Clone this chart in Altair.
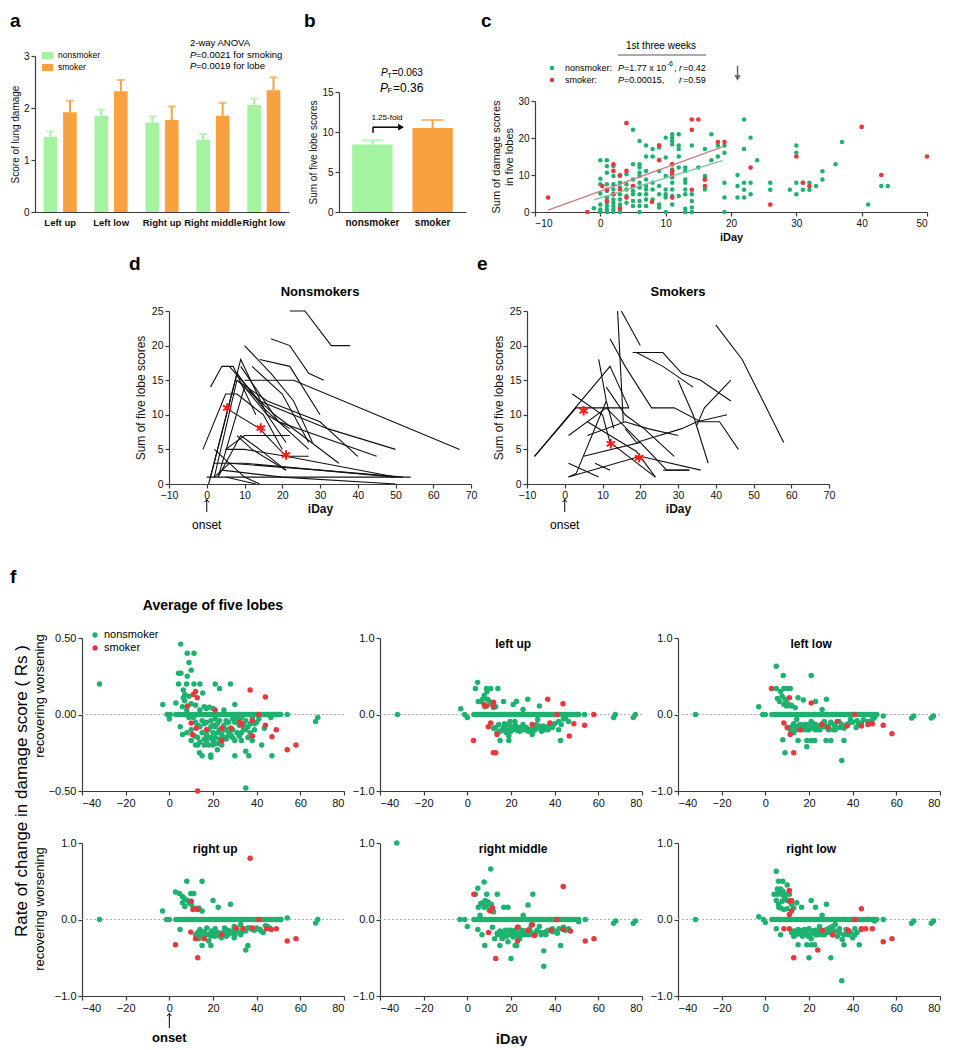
import altair as alt
import pandas as pd

FONT = "Liberation Sans"
BAR_GREEN = "#a3f3a0"
BAR_ORANGE = "#f9a13e"
DOT_GREEN = "#1db26f"
DOT_RED = "#e8383d"
AXIS_COLOR = "#3c3c3c"
STAR = "M0,-1L0,1M-0.87,-0.5L0.87,0.5M-0.87,0.5L0.87,-0.5"
CHEVRON = "M-1,0.7L0,-0.3L1,0.7"

# ---------------- panel a ----------------
LOBES = ["Left up", "Left low", "Right up", "Right middle", "Right low"]
A_NONSMOKER = [1.44, 1.85, 1.72, 1.39, 2.06]
A_NONSMOKER_ERR = [1.55, 1.97, 1.84, 1.50, 2.18]
A_SMOKER = [1.92, 2.32, 1.77, 1.85, 2.34]
A_SMOKER_ERR = [2.14, 2.54, 2.03, 2.10, 2.59]
A_TICKS = [0, 1, 2, 3]

# ---------------- panel b ----------------
GROUPS = ["nonsmoker", "smoker"]
B_VALUES = [8.45, 10.5]
B_ERR = [8.95, 11.5]
B_TICKS = [0, 5, 10, 15]

# ---------------- panel c ----------------
C_NONSMOKER = [
    (-1, 1), (0, 14), (0, 9), (0, 7.5), (0, 5), (0, 2), (0, 0.7), (0, 0),
    (1, 14), (1, 12.4), (1, 10.6), (1, 7.5), (1, 5.7), (1, 3.9), (1, 2.5), (1, 1.6), (1, 0.7), (1, 0),
    (2, 12.4), (2, 9.7), (2, 7.5), (2, 6.1), (2, 4.8), (2, 3.4), (2, 2.5), (2, 1.6), (2, 0.7), (2, 0),
    (3, 9.7), (3, 7.9), (3, 6.6), (3, 4.8), (3, 3.4), (3, 2), (3, 1.2), (3, 0),
    (4, 10.2), (4, 7.5), (4, 6.1), (4, 4.3), (4, 2.5),
    (5, 22.2), (5, 12.9), (5, 8.8), (5, 7), (5, 5.7), (5, 4.8), (5, 3), (5, 1.6),
    (6, 19.2), (6, 12.9), (6, 12), (6, 10.6), (6, 9.7), (6, 7.9), (6, 6.6), (6, 4.8), (6, 3), (6, 1.6), (6, 0),
    (7, 18), (7, 15), (7, 11.1), (7, 8.8), (7, 7), (7, 6.1), (7, 4.8), (7, 3.4), (7, 1.6),
    (8, 17), (8, 15), (8, 7.9), (8, 6.1), (8, 3.4),
    (9, 17.4), (9, 11.1), (9, 7), (9, 4.8), (9, 2), (9, 1.2),
    (10, 20.1), (10, 14.7), (10, 9.7), (10, 6.1), (10, 4.8), (10, 3.9), (10, 0),
    (11, 21), (11, 20.1), (11, 19.2), (11, 18.3), (11, 12.9), (11, 11.5), (11, 10.6), (11, 9.3),
    (11, 7.9), (11, 6.1), (11, 4.3), (11, 2),
    (12, 21), (12, 18), (12, 17), (12, 15), (12, 12), (12, 4.3),
    (13, 12), (13, 11.1), (13, 8.8), (13, 7.9), (13, 6.1), (13, 4.8), (13, 0.9), (13, 0),
    (14, 18), (14, 4.8), (14, 3), (14, 1.2), (14, 0), (15, 12),
    (16, 17), (16, 9.7), (16, 8.8), (16, 6.1), (17, 21), (17, 14), (18, 15), (18, 18),
    (19, 18), (19, 16), (19, 7.9), (19, 3.9), (19, 0),
    (21, 10), (21, 7), (21, 3.9), (22, 25), (22, 17), (22, 7.9), (22, 6), (22, 3.9),
    (23, 20.1), (23, 7.9), (23, 4.8), (24, 14), (26, 7.9), (26, 6),
    (29, 6), (30, 18), (30, 16), (30, 7.9), (30, 4.8), (31, 7.9), (31, 6), (32, 7.9), (32, 6),
    (33, 7), (34, 11), (34, 8.8), (36, 12.9), (37, 18.9), (41, 2), (43, 7), (44, 7),
]
C_SMOKER = [
    (-8, 3.9), (-2, 0), (0.3, 7), (1, 6), (1, 3), (2, 12.9), (2, 11.1), (2, 4.8), (3, 9.9), (3, 6.1),
    (3, 0.9), (4, 24), (4, 11.1), (4, 3.9), (5, 7), (7.9, 2.7), (9, 18), (9, 14), (11, 12.9),
    (11, 11.1), (11, 9.9), (11, 3.9), (14, 25), (14, 22.2), (14, 6), (15, 25), (16, 8.8), (16, 7),
    (18, 18.9), (19, 18.9), (23, 12), (26, 2), (30, 15), (31, 7.9), (32, 7), (40, 23), (43, 10), (50, 15),
]
C_FIT_NONSMOKER = [(-1, 3.3), (18.7, 13.9)]
C_FIT_SMOKER = [(-8, 0.5), (18.7, 17.6)]
C_XTICKS = [-10, 0, 10, 20, 30, 40, 50]
C_YTICKS = [0, 10, 20, 30]

# ---------------- panels d, e ----------------
D_LINES = [
    [(22, 25), (26, 25), (33, 20), (38, 20)],
    [(17, 21), (22, 20), (27, 16), (31, 15)],
    [(10, 20), (17, 16), (23, 12), (28, 6)],
    [(14, 18), (22, 17), (30, 10)],
    [(12, 17), (20, 13), (27, 6)],
    [(10, 15), (23, 15), (67, 5)],
    [(1, 14), (4, 17), (7, 17), (13, 10)],
    [(-1, 5), (5, 13), (8, 13), (15, 10), (20, 5)],
    [(0.5, 0), (9, 18), (16, 10), (21, 6)],
    [(1, 1), (8, 16), (15, 11), (27, 5)],
    [(2, 1), (8, 15), (18, 10), (35, 3)],
    [(8, 15), (16, 12), (30, 9), (40, 4)],
    [(6, 17), (14, 12), (32, 8), (50, 5)],
    [(9, 17), (19, 9), (45, 4)],
    [(3, 1), (10, 14), (16, 10), (22, 8)],
    [(5, 5), (10, 5), (21, 4), (50, 1)],
    [(5, 11), (14, 8), (21, 4), (27, 4)],
    [(3, 1), (9, 7), (14, 5), (21, 2)],
    [(5, 5), (10, 7), (16, 7), (22, 7)],
    [(2, 3), (10, 3), (50, 1)],
    [(0, 1), (54, 1)],
    [(4, 2), (20, 1), (50, 0)],
    [(2, 5), (10, 1), (14, 0)],
    [(5, 1), (13, 0)],
    [(2, 1), (6, 3), (30, 2), (52, 1)],
    [(8, 7), (12, 5), (21, 2)],
]
D_STARS = [(5.4, 11), (14.3, 8.1), (21, 4.2)]

E_LINES = [
    [(40, 23), (47, 18), (58, 6)],
    [(14, 25), (15.5, 9)],
    [(15, 25), (20, 20)],
    [(18, 19), (26, 19), (31, 16), (36, 15), (44, 12)],
    [(19, 19), (26, 17), (34, 14)],
    [(12, 21), (16, 17), (23, 11), (29, 11), (36, 9), (41, 9), (46, 5)],
    [(30, 15), (34, 10), (38, 3)],
    [(-8, 4), (12, 17), (17, 11)],
    [(-8, 4), (3, 11), (17, 11)],
    [(2, 13), (10, 10), (12, 6), (24, 1)],
    [(9, 18), (11, 12), (13, 8)],
    [(11, 14), (16, 10), (21, 8), (29, 4)],
    [(6, 9), (19, 4.7), (24, 1)],
    [(1, 1), (3, 1.5), (11, 12)],
    [(1, 3), (9, 1)],
    [(8, 3), (12, 2)],
    [(1, 1), (20, 4), (36, 2)],
    [(5, 4), (20, 6), (27, 2), (33, 2)],
    [(26, 2), (33, 2)],
    [(16, 8), (19, 6), (31, 8), (35, 9), (43, 10)],
    [(35, 8.5), (37, 11), (44, 15)],
    [(6, 7), (16, 9), (22, 8), (30, 7)],
    [(1, 7), (11, 11), (20, 6)],
]
E_STARS = [(5, 10.6), (12.2, 5.8), (19.7, 3.8)]
DE_XTICKS = [-10, 0, 10, 20, 30, 40, 50, 60, 70]
DE_YTICKS = [0, 5, 10, 15, 20, 25]

# ---------------- panel f ----------------
F_XTICKS = [-40, -20, 0, 20, 40, 60, 80]
F_YTICKS_AVG = [-0.5, -0.25, 0, 0.25, 0.5]
F_YTICKS = [-1, -0.5, 0, 0.5, 1]
F_ZERO_DAYS = [3, 4, 5, 6, 7, 8, 9, 10, 11, 12, 13, 14, 15, 16, 17, 18, 19, 20, 21, 22, 23, 24, 25,
               26, 27, 28, 29, 30, 31, 32, 33, 34, 35, 36, 37, 38, 39, 40, 41, 42, 43, 44, 45, 46,
               47, 48, 49, 50, 51]

F1_NS = [(-32, 0.20), (-3, 0.065), (-1, 0), (0.5, 0), (0, -0.03), (3, 0.075), (5, -0.08), (5.2, 0.46),
         (4.2, 0.27), (5.3, 0.27), (8.2, 0.40), (11.3, 0.40), (9, 0.34), (10, 0.29), (8.2, 0.25),
         (4.2, 0.2), (7.9, 0.2), (11.3, 0.2), (14, 0.2), (21, 0.2), (28, 0.2), (6.4, 0.16), (7.1, 0.13),
         (6.4, 0.11), (15.3, 0.14), (23, 0.17), (30, 0.065), (17, 0.04), (18.3, 0.048), (11.6, -0.14),
         (13, -0.2), (13.8, -0.25), (15, -0.27), (19, -0.28), (19, -0.265), (30, -0.27), (35, -0.24),
         (36.4, -0.27), (47, -0.27), (42.3, -0.2), (35, -0.48), (17, -0.05), (18, -0.1), (19, -0.08),
         (20, -0.12), (21, -0.15), (22, -0.06), (23, -0.1), (24, -0.13), (25, -0.07), (26, -0.04),
         (27, -0.11), (28, -0.09), (29, -0.03), (30, -0.05), (31, -0.12), (32, -0.07), (33, -0.02),
         (34, -0.09), (35, -0.04), (36, -0.15), (37, -0.06), (38, -0.03), (39, -0.1), (40, -0.05),
         (15, -0.12), (16, -0.16), (14, -0.08), (13, -0.15), (12, -0.05), (10, -0.1), (9, -0.02),
         (8, -0.12), (6, -0.13), (20, -0.17), (22, -0.19), (24, -0.2), (26, -0.16), (18, -0.2),
         (21, -0.03), (23, -0.16), (45.5, 0), (46.5, -0.02), (48, 0), (49.5, 0), (54, 0), (67, -0.045),
         (68, -0.02), (43.5, -0.09), (12, 0.06), (9, 0.12), (7, 0.09), (16, -0.06), (25, -0.1),
         (27, -0.14), (29, -0.1), (33, -0.12), (17, -0.13), (19, -0.15), (21, -0.08), (14, -0.18),
         (16, -0.2), (20, -0.2), (22, -0.12),
         (11, -0.02), (13, -0.07), (15, -0.04), (17, -0.17), (19, -0.04), (21, -0.19), (23, -0.04),
         (25, -0.15), (27, -0.05), (29, -0.15), (31, -0.03), (33, -0.17), (35, -0.1), (37, -0.12),
         (39, -0.06), (41, -0.03), (10, -0.17), (12, -0.2), (18, -0.15), (20, -0.07), (22, -0.23),
         (26, -0.1), (28, -0.13), (30, -0.17), (32, -0.14), (34, -0.06), (36, -0.08), (38, -0.17),
         (6, 0.05), (8, 0.03), (10, 0.07), (14, 0.03), (16, 0.05), (20, 0.04), (25, 0.03)]
F1_S = [(12, 0.15), (11, 0.13), (12.8, 0.11), (8.3, 0.055), (21, 0.03), (37, 0.16), (44, 0.115),
        (10.5, -0.13), (12.3, -0.09), (10, -0.055), (17, -0.1), (24, -0.09), (28.4, -0.09),
        (32.4, -0.05), (38, -0.04), (38, -0.14), (41, 0), (44, -0.07), (47, -0.145), (49, -0.1),
        (54, -0.23), (58, -0.2), (13, -0.5), (33, -0.065), (24, -0.17)]

F2_NS = [(-32, 0), (-3, 0.075), (-1.2, 0), (0, -0.04), (4.7, 0.42), (3.7, 0.34), (5, 0.17), (6, 0.17),
         (7.7, 0.25), (8.8, 0.34), (10.7, 0.34), (14, 0.34), (9.2, 0.2), (10.2, 0.17), (12, 0.09),
         (16.6, 0.17), (21, 0.13), (22.5, 0.17), (27.7, 0.2), (25.5, 0.065), (33, 0.11), (15, -0.34),
         (19, -0.34), (19, -0.28), (13.6, -0.24), (16.6, -0.17), (18.1, -0.13), (20.3, -0.2),
         (22.5, -0.2), (25.5, -0.13), (27, -0.2), (29.7, -0.26), (31.5, -0.13), (33.7, -0.2),
         (36, -0.2), (37.4, -0.15), (41.8, -0.2), (42.7, -0.34), (41.8, -0.09), (46.3, -0.09),
         (15.9, -0.2), (17.4, -0.22), (24, -0.22), (28.5, -0.2), (19.6, -0.09), (34.4, -0.17),
         (38.9, -0.17), (14.4, -0.13), (21.8, -0.09), (32.2, -0.065), (53.7, 0), (50, 0), (67, -0.04),
         (67.8, 0), (76, -0.04), (77, 0), (12, -0.18), (17, -0.12), (20, -0.16), (23, -0.18),
         (26, -0.2), (30, -0.18), (35, -0.15), (40, -0.12), (44, -0.06), (18, -0.2), (22, -0.14),
         (31, -0.2),
         (13, -0.17), (15, -0.22), (17, -0.17), (18, -0.24), (20, -0.22), (21, -0.19), (23, -0.21),
         (24, -0.17), (25, -0.2), (27, -0.17), (28, -0.22), (29, -0.2), (30, -0.22), (32, -0.17),
         (33, -0.15), (34, -0.22), (35, -0.2), (36, -0.17), (37, -0.2), (38, -0.12), (39, -0.15),
         (43, -0.13), (45, -0.04), (8, 0.1), (11, 0.14), (13, 0.1), (9, 0.3), (7, 0.2)]
F2_S = [(2.8, -0.34), (7.7, 0.13), (8.8, 0.11), (12, 0.16), (11.9, 0.11), (9.6, -0.16), (10.7, -0.11),
        (11.9, -0.5), (13, -0.5), (13.6, -0.26), (29.7, -0.13), (36.8, 0.2), (43.8, 0.14),
        (37.8, -0.11), (48.8, -0.12), (46.7, -0.28), (53.7, -0.14), (57.9, 0), (41, 0)]

F3_NS = [(-32, 0), (-3, 0.1), (-1.2, 0), (0, 0), (5, 0.63), (5, 0.34), (8.2, 0.51), (8.5, 0.34),
         (10, 0.34), (11.4, 0.34), (21, 0.51), (5.5, 0.21), (6.5, 0.17), (7.7, 0.24), (8.5, 0.13),
         (9.7, 0.11), (11.7, 0.11), (13.7, 0.09), (15, 0.22), (17.4, 0.19), (23, 0.17), (26, 0.065),
         (28, 0.2), (8, -0.33), (9, -0.5), (11.4, -0.2), (13, -0.24), (15, -0.34), (17.4, -0.2),
         (19, -0.34), (19, -0.42), (21, -0.34), (22.6, -0.34), (27.8, -0.34), (30, -0.34), (35, -0.6),
         (36, -0.34), (29, -0.2), (32, -0.2), (37.4, -0.13), (41.6, -0.17), (42.6, -0.13), (44, -0.11),
         (50, -0.04), (49, -0.065), (16, -0.13), (18, -0.13), (20.3, -0.17), (23, -0.13), (25.5, -0.17),
         (27, -0.09), (33.7, -0.09), (39, -0.065), (14.4, -0.065), (21, -0.09), (31.5, -0.13),
         (54, -0.02), (67, -0.045), (68, -0.02), (76, -0.045), (77, -0.02), (12, -0.16), (14, -0.18),
         (17, -0.15), (19, -0.2), (22, -0.18), (24, -0.2), (26, -0.12), (28, -0.15), (34, -0.17),
         (40, -0.1),
         (13, -0.12), (14, -0.2), (15, -0.15), (16, -0.2), (18, -0.18), (19, -0.13), (20, -0.2),
         (21, -0.15), (22, -0.12), (23, -0.2), (24, -0.15), (25, -0.2), (27, -0.16), (29, -0.15),
         (30, -0.1), (31, -0.2), (32, -0.15), (35, -0.13), (36, -0.18), (38, -0.12), (42, -0.08),
         (45, -0.07), (47, -0.09), (9, 0.2), (10, 0.15), (12, 0.12), (7, 0.3)]
F3_S = [(2.8, 0.34), (11, 0.22), (21, 0.15), (8.5, -0.11), (10, -0.17), (11.4, -0.26), (13, -0.5),
        (16, -0.2), (25.8, -0.13), (28.5, -0.17), (37.4, -0.15), (41, 0), (44, -0.15), (47, -0.13),
        (49, -0.12), (54, -0.14), (58, -0.25), (33, -0.09)]

F4_NS = [(-32, 0), (-3.1, 0.11), (-1.3, 0), (0, 0), (8, 0.5), (15, 0.5), (2.8, 0.36), (4.6, 0.34),
         (9.8, 0.34), (11.2, 0.34), (6, 0.22), (8.3, 0.25), (7.1, 0.17), (13.5, 0.15), (15, 0.11),
         (20, 0.25), (22.4, 0.16), (28, 0.2), (4.9, -0.13), (14, -0.13), (15, -0.34), (19, -0.34),
         (13.5, -0.25), (16.4, -0.2), (18, -0.28), (20.9, -0.22), (22.3, -0.17), (23.8, -0.24),
         (26.8, -0.2), (29.7, -0.24), (32.7, -0.2), (35, -0.4), (36, -0.34), (37, -0.11), (43, -0.17),
         (41.6, -0.13), (46, -0.11), (25.3, -0.11), (17.2, -0.11), (19.4, -0.15), (29.7, -0.09),
         (32.7, -0.065), (50, 0), (51, 0), (54, 0.02), (67, -0.045), (68, 0), (12, -0.2), (16, -0.16),
         (21, -0.12), (24, -0.18), (27, -0.14), (31, -0.16), (34, -0.12), (39, -0.14), (44, -0.08),
         (18, -0.19), (22, -0.21), (26, -0.17),
         (13, -0.17), (14, -0.22), (15, -0.18), (17, -0.2), (19, -0.22), (20, -0.17), (21, -0.2),
         (23, -0.2), (25, -0.17), (26, -0.22), (28, -0.18), (29, -0.15), (30, -0.2), (31, -0.12),
         (33, -0.17), (35, -0.15), (36, -0.11), (38, -0.13), (40, -0.11), (42, -0.15), (45, -0.09),
         (6, 0.3), (7, 0.27), (9, 0.22), (10, 0.2), (11, 0.15)]
F4_S = [(2.8, -0.33), (10, 0.24), (10.8, 0.13), (12, 0.14), (13, 0.13), (9.8, -0.165), (12, -0.25),
        (13, -0.5), (16, -0.25), (24, -0.2), (30.5, -0.11), (33.7, -0.12), (38, -0.11), (37, 0.8),
        (44.5, -0.12), (46.7, -0.13), (49, -0.12), (54, -0.28), (58, -0.25), (41, 0)]

F5_NS = [(-32.3, 1.0), (-3.4, 0), (-1.2, 0), (0, -0.09), (10.7, 0.66), (7.7, 0.49), (4.8, 0.41),
         (3.7, 0.33), (8.9, 0.33), (13.7, 0.33), (30, 0.33), (8.2, 0.25), (9.5, 0.23), (6.2, 0.21),
         (5, 0.16), (7.7, 0.16), (10, 0.12), (16.7, 0.16), (18.6, 0.16), (27.8, 0.19), (5.8, 0.055),
         (25.6, 0.055), (4.8, -0.13), (6.7, -0.2), (8, -0.34), (12.5, -0.25), (14.9, -0.34), (20, -0.51),
         (18.6, -0.29), (21.9, -0.34), (22.6, -0.34), (35, -0.41), (35, -0.61), (42.7, -0.34),
         (13.7, -0.18), (15.9, -0.23), (17.4, -0.14), (19.6, -0.18), (21, -0.23), (24, -0.18),
         (26.3, -0.2), (28.6, -0.12), (31.5, -0.16), (33.8, -0.2), (36, -0.16), (38.9, -0.12),
         (41.2, -0.18), (46.4, -0.12), (11.5, -0.1), (23.4, -0.1), (29.3, -0.07), (33, -0.09), (54, 0),
         (51, -0.03), (67, -0.05), (68, -0.02), (76, -0.05), (77, -0.02), (15, -0.15), (17, -0.2),
         (20, -0.14), (22, -0.2), (25, -0.14), (27, -0.17), (30, -0.2), (35, -0.18), (40, -0.15),
         (44, -0.1),
         (14, -0.2), (16, -0.17), (16, -0.25), (18, -0.22), (19, -0.14), (20, -0.2), (21, -0.17),
         (22, -0.14), (23, -0.22), (24, -0.25), (25, -0.2), (26, -0.15), (28, -0.2), (29, -0.17),
         (31, -0.2), (32, -0.14), (34, -0.17), (36, -0.2), (37, -0.14), (39, -0.16), (42, -0.12),
         (45, -0.14), (9, 0.18), (11, 0.2), (12, 0.1), (7, 0.22)]
F5_S = [(3, 0.33), (10.7, 0.11), (11.5, 0.15), (9.7, -0.17), (13, -0.51), (23, -0.1), (23, -0.28),
        (29.8, -0.07), (27.8, -0.14), (30.8, -0.21), (38.3, -0.14), (43.9, 0.43), (43.9, -0.13),
        (47.2, -0.15), (54, -0.28), (58, -0.25), (41, 0)]

F6_NS = [(-32, 0), (-3, 0.035), (-0.9, 0), (0, -0.04), (5, 0.63), (6, 0.5), (8, 0.5), (10, 0.45),
         (5.5, 0.4), (4, 0.33), (5.5, 0.33), (7.4, 0.33), (9.2, 0.33), (11, 0.33), (5, 0.25), (7.7, 0.24),
         (8.9, 0.28), (6.2, 0.16), (7, 0.15), (8.5, 0.13), (10, 0.14), (14.4, 0.22), (16.6, 0.16),
         (21, 0.25), (23, 0.16), (28, 0.2), (26, 0.055), (5, -0.12), (7, -0.2), (13, -0.22), (15, -0.33),
         (20, -0.5), (19, -0.33), (21, -0.33), (22.6, -0.33), (30, -0.5), (35, -0.8), (36, -0.33),
         (43, -0.33), (12, -0.17), (14.4, -0.15), (16.6, -0.2), (18, -0.17), (19.6, -0.22),
         (21.8, -0.15), (24, -0.2), (26.3, -0.15), (28.5, -0.17), (30.8, -0.09), (33, -0.22),
         (35.2, -0.26), (37.4, -0.17), (40, -0.24), (42, -0.17), (44, -0.13), (32, -0.065),
         (29.3, -0.11), (24.8, -0.09), (47, 0), (50, -0.02), (54, 0), (67, -0.05), (68, -0.02),
         (76, -0.05), (77, -0.02), (15, -0.18), (17, -0.14), (19, -0.19), (20, -0.12), (22, -0.18),
         (23, -0.14), (25, -0.19), (27, -0.2), (31, -0.14), (34, -0.18), (38, -0.2), (41, -0.12),
         (13, -0.15), (14, -0.2), (15, -0.13), (16, -0.17), (17, -0.22), (18, -0.13), (19, -0.17),
         (20, -0.2), (21, -0.25), (22, -0.15), (23, -0.2), (24, -0.15), (25, -0.13), (26, -0.2),
         (27, -0.15), (28, -0.13), (30, -0.17), (31, -0.2), (33, -0.15), (34, -0.12), (36, -0.2),
         (37, -0.13), (39, -0.17), (41, -0.2), (6, 0.37), (7, 0.4), (8, 0.37), (9, 0.3), (10, 0.25),
         (12, 0.2), (13, 0.15), (6, 0.2)]
F6_S = [(11, 0.38), (12, 0.25), (11, 0.24), (12, 0.11), (11, 0.065), (8.5, -0.12), (11, -0.12),
        (13, -0.5), (24, -0.4), (26, -0.14), (30.8, -0.2), (38, -0.14), (44, 0.14), (44, -0.12),
        (46, -0.12), (49, -0.12), (54, -0.29), (58, -0.25), (41, 0)]

ONE = pd.DataFrame({"k": [0]})
V = alt.value
D = alt.datum


def label(text, x, y, size=10, weight="normal", align="left", baseline="middle",
          color="black", angle=0, style="normal"):
    return alt.Chart(ONE).mark_text(
        text=text, font=FONT, fontSize=size, fontWeight=weight, fontStyle=style,
        align=align, baseline=baseline, color=color, angle=angle
    ).encode(x=x, y=y)


def letter(ch, x, y):
    return label(ch, V(x), V(y), size=19, weight="bold", baseline="alphabetic")


def up_arrow(x, y_top, y_bottom):
    return [
        alt.Chart(ONE).mark_rule(color="black", strokeWidth=1).encode(x=x, y=V(y_top), y2=V(y_bottom)),
        alt.Chart(ONE).mark_point(shape=CHEVRON, filled=False, color="black", strokeWidth=1, size=22,
                                  opacity=1).encode(x=x, y=V(y_top + 1.5)),
    ]


# ================= panel a =================
df_a = pd.DataFrame({
    "lobe": LOBES + LOBES,
    "group": ["nonsmoker"] * len(LOBES) + ["smoker"] * len(LOBES),
    "value": A_NONSMOKER + A_SMOKER,
    "err": A_NONSMOKER_ERR + A_SMOKER_ERR,
    "col": [BAR_GREEN] * len(LOBES) + [BAR_ORANGE] * len(LOBES),
})
xa = alt.X("lobe:N", sort=LOBES, scale=alt.Scale(paddingInner=0.35, paddingOuter=0.17),
           axis=alt.Axis(title=None, labelAngle=0, labelFontWeight="bold", labelFontSize=9.5,
                         ticks=False, labelPadding=5, labelOverlap=False))
xoa = alt.XOffset("group:N", sort=GROUPS, scale=alt.Scale(paddingInner=0.3))
ya = alt.Y("value:Q", scale=alt.Scale(domain=[0, 3], nice=False),
           axis=alt.Axis(values=A_TICKS, title="Score of lung damage", titleFontSize=10, titlePadding=3,
                         labelOverlap=False))
ca = alt.Color("col:N", scale=None)
base_a = alt.Chart(df_a)
chart_a = alt.layer(
    base_a.mark_bar().encode(x=xa, xOffset=xoa, y=ya, color=ca),
    base_a.mark_rule(strokeWidth=2).encode(x=xa, xOffset=xoa, y=alt.Y("value:Q", title="Score of lung damage"),
                                           y2="err:Q", color=ca),
    base_a.mark_tick(thickness=2, size=8).encode(x=xa, xOffset=xoa,
                                                 y=alt.Y("err:Q", title="Score of lung damage"), color=ca),
    alt.Chart(ONE).mark_rect(color=BAR_GREEN).encode(x=V(7), x2=V(18), y=V(-4), y2=V(3)),
    alt.Chart(ONE).mark_rect(color=BAR_ORANGE).encode(x=V(7), x2=V(18), y=V(8), y2=V(15)),
    label("nonsmoker", V(23), V(-1), size=8.5),
    label("smoker", V(23), V(11), size=8.5),
    label("2-way ANOVA", V(155), V(-13), size=9.5),
    label("P", V(155), V(-1), size=9.5, style="italic"),
    label("=0.0021 for smoking", V(161), V(-1), size=9.5),
    label("P", V(155), V(10), size=9.5, style="italic"),
    label("=0.0019 for lobe", V(161), V(10), size=9.5),
    letter("a", -25, -29),
).properties(width=254, height=156)

# ================= panel b =================
df_b = pd.DataFrame({"group": GROUPS, "value": B_VALUES, "err": B_ERR, "col": [BAR_GREEN, BAR_ORANGE]})
xb = alt.X("group:N", sort=GROUPS, scale=alt.Scale(paddingInner=0.33, paddingOuter=0.22),
           axis=alt.Axis(title=None, labelAngle=0, labelFontWeight="bold", labelFontSize=10,
                         ticks=False, labelPadding=5, labelOverlap=False))
yb = alt.Y("value:Q", scale=alt.Scale(domain=[0, 15], range=[156, 36], nice=False),
           axis=alt.Axis(values=B_TICKS, title="Sum of five lobe scores", titleFontSize=10, titlePadding=3,
                         labelOverlap=False))
cb = alt.Color("col:N", scale=None)
base_b = alt.Chart(df_b)
chart_b = alt.layer(
    base_b.mark_bar().encode(x=xb, y=yb, color=cb),
    base_b.mark_rule(strokeWidth=2).encode(x=xb, y=alt.Y("value:Q", title="Sum of five lobe scores"),
                                           y2="err:Q", color=cb),
    base_b.mark_tick(thickness=2, size=22).encode(x=xb, y=alt.Y("err:Q", title="Sum of five lobe scores"),
                                                  color=cb),
    alt.Chart(ONE).mark_rule(color="black", strokeWidth=1.5).encode(x=V(34), y=D(9.9), y2=D(10.6)),
    alt.Chart(ONE).mark_rule(color="black", strokeWidth=1.5).encode(x=V(34), x2=V(60), y=D(10.6)),
    alt.Chart(ONE).mark_point(shape="triangle-right", filled=True, size=45, color="black",
                              opacity=1).encode(x=V(62), y=D(10.6)),
    label("1.25-fold", V(48), D(11.7), size=8, align="center"),
    label("P", V(42), V(17), size=10, style="italic"),
    label("T", V(48.5), V(20), size=7),
    label("=0.063", V(53), V(17), size=10),
    label("P", V(41), V(32), size=12, style="italic"),
    label("F", V(48.5), V(35), size=8),
    label("=0.36", V(54), V(32), size=12),
    letter("b", -35, -29),
).properties(width=127, height=156)

# ================= panel c =================
df_cn = pd.DataFrame(C_NONSMOKER, columns=["day", "score"])
df_cs = pd.DataFrame(C_SMOKER, columns=["day", "score"])
df_fn = pd.DataFrame(C_FIT_NONSMOKER, columns=["day", "score"])
df_fs = pd.DataFrame(C_FIT_SMOKER, columns=["day", "score"])
xc = alt.X("day:Q", scale=alt.Scale(domain=[-10, 50], nice=False),
           axis=alt.Axis(values=C_XTICKS, title="iDay", titleFontWeight="bold", titleFontSize=11, titlePadding=3,
                         labelOverlap=False))
yc = alt.Y("score:Q", scale=alt.Scale(domain=[0, 30], range=[156, 45], nice=False),
           axis=alt.Axis(values=C_YTICKS, title=["Sum of damage scores", "in five lobes"],
                         titleFontSize=11, titlePadding=3, labelOverlap=False))
chart_c = alt.layer(
    alt.Chart(df_cn).mark_circle(size=20, color=DOT_GREEN, opacity=1).encode(x=xc, y=yc),
    alt.Chart(df_cs).mark_circle(size=22, color=DOT_RED, opacity=1).encode(x=xc, y=yc),
    alt.Chart(df_fn).mark_line(color="#7cc3a0", strokeWidth=1.3).encode(x=xc, y=yc),
    alt.Chart(df_fs).mark_line(color="#c97d7d", strokeWidth=1.3).encode(x=xc, y=yc),
    label("1st three weeks", V(126), V(-10), size=10, align="center"),
    alt.Chart(ONE).mark_rule(color="#555", strokeWidth=1).encode(x=V(83), x2=V(171), y=V(-1)),
    alt.Chart(ONE).mark_circle(size=20, color=DOT_GREEN, opacity=1).encode(x=V(17), y=V(12)),
    alt.Chart(ONE).mark_circle(size=20, color=DOT_RED, opacity=1).encode(x=V(17), y=V(24)),
    label("nonsmoker:", V(30), V(12), size=9),
    label("smoker:", V(30), V(24), size=9),
    label("P", V(83), V(12), size=9, style="italic"),
    label("=1.77 x 10", V(89), V(12), size=9),
    label("-6", V(132), V(8), size=6.5),
    label(",", V(139), V(12), size=9),
    label("r", V(144), V(12), size=9, style="italic"),
    label("=0.42", V(148), V(12), size=9),
    label("P", V(83), V(24), size=9, style="italic"),
    label("=0.00015,", V(89), V(24), size=9),
    label("r", V(144), V(24), size=9, style="italic"),
    label("=0.59", V(148), V(24), size=9),
    alt.Chart(ONE).mark_rule(color="#666", strokeWidth=1.5).encode(x=D(21), y=V(10), y2=V(21)),
    alt.Chart(ONE).mark_point(shape="triangle-down", filled=True, size=40, color="#666",
                              opacity=1).encode(x=D(21), y=V(22)),
    letter("c", -54, -29),
).properties(width=392, height=156)

# ================= panels d, e =================
DE_WIDTH = 302
DE_ONSET_PX = DE_WIDTH * (0 - DE_XTICKS[0]) / (DE_XTICKS[-1] - DE_XTICKS[0])


def trajectories(lines, stars, title, ch, ch_x):
    rows = []
    for i, ln in enumerate(lines):
        for j, (d, s) in enumerate(ln):
            rows.append({"line": i, "seq": j, "day": d, "score": s})
    df = pd.DataFrame(rows)
    dfs = pd.DataFrame(stars, columns=["day", "score"])
    x = alt.X("day:Q", scale=alt.Scale(domain=[DE_XTICKS[0], DE_XTICKS[-1]], nice=False),
              axis=alt.Axis(values=DE_XTICKS, title="iDay", titleFontWeight="bold", titleFontSize=12,
                            labelFontSize=10.5, titlePadding=3, labelOverlap=False, labelFlush=False,
                            labelBound=False, labelSeparation=0))
    y = alt.Y("score:Q", scale=alt.Scale(domain=[0, 25], nice=False),
              axis=alt.Axis(values=DE_YTICKS, title="Sum of five lobe scores", titleFontSize=12,
                            labelFontSize=10.5, titlePadding=4, labelOverlap=False))
    return alt.layer(
        alt.Chart(df).mark_line(color="#111", strokeWidth=1.1).encode(x=x, y=y, detail="line:N", order="seq:Q"),
        alt.Chart(dfs).mark_point(shape=STAR, filled=False, color="#ff1a1a", strokeWidth=2, size=90,
                                  opacity=1).encode(x=x, y=y),
        *up_arrow(V(DE_ONSET_PX), 188, 201),
        label("onset", V(DE_ONSET_PX), V(214), size=12, align="center"),
        label(title, V(DE_WIDTH / 2), V(-19), size=13, weight="bold", align="center"),
        letter(ch, ch_x, -41),
    ).properties(width=DE_WIDTH, height=173)


chart_d = trajectories(D_LINES, D_STARS, "Nonsmokers", "d", -40)
chart_e = trajectories(E_LINES, E_STARS, "Smokers", "e", -50)


# ================= panel f =================
def rate_panel(ns, s, yticks, yfmt, name=None, xtitle=None, extra=None, title=None):
    dfn = pd.DataFrame(ns + [(d, 0.0) for d in F_ZERO_DAYS], columns=["day", "rate"])
    dfr = pd.DataFrame(s, columns=["day", "rate"])
    ydom = [yticks[0], yticks[-1]]
    x = alt.X("day:Q", scale=alt.Scale(domain=[-40, 80], nice=False),
              axis=alt.Axis(values=F_XTICKS, labelFontSize=11, title=xtitle, titleFontWeight="bold",
                            titleFontSize=15, titlePadding=18, labelOverlap=False))
    y = alt.Y("rate:Q", scale=alt.Scale(domain=ydom, nice=False),
              axis=alt.Axis(values=yticks, format=yfmt, labelFontSize=11, title=None, labelOverlap=False))
    layers = [
        alt.Chart(ONE).mark_rule(color="#b5b5b5", strokeDash=[2, 2], strokeWidth=1).encode(y=D(0)),
        alt.Chart(dfn).mark_circle(size=30, color=DOT_GREEN, opacity=1).encode(x=x, y=y),
        alt.Chart(dfr).mark_circle(size=30, color=DOT_RED, opacity=1).encode(x=x, y=y),
    ]
    if name:
        layers.append(label(name, D(21), V(6), size=12, weight="bold", align="center"))
    if extra:
        layers.extend(extra)
    props = dict(width=262, height=153)
    if title:
        props["title"] = alt.TitleParams(title, fontSize=14, fontWeight="bold", font=FONT, offset=16)
    return alt.layer(*layers).properties(**props)


f1 = rate_panel(F1_NS, F1_S, F_YTICKS_AVG, ".2f", title="Average of five lobes", extra=[
    alt.Chart(ONE).mark_circle(size=28, color=DOT_GREEN, opacity=1).encode(x=V(13), y=V(-3)),
    alt.Chart(ONE).mark_circle(size=28, color=DOT_RED, opacity=1).encode(x=V(13), y=V(10)),
    label("nonsmoker", V(22), V(-3), size=11),
    label("smoker", V(22), V(10), size=11),
])
f2 = rate_panel(F2_NS, F2_S, F_YTICKS, ".1f", name="left up")
f3 = rate_panel(F3_NS, F3_S, F_YTICKS, ".1f", name="left low")
f4 = rate_panel(F4_NS, F4_S, F_YTICKS, ".1f", name="right up", extra=[
    *up_arrow(D(0), 170, 185),
    label("onset", D(0), V(195), size=13, weight="bold", align="center"),
])
f5 = rate_panel(F5_NS, F5_S, F_YTICKS, ".1f", name="right middle", xtitle="iDay")
f6 = rate_panel(F6_NS, F6_S, F_YTICKS, ".1f", name="right low")

grid_f = alt.concat(f1, f2, f3, f4, f5, f6, columns=3, spacing={"row": 29, "column": 7}, align="each")

YT = "recovering    worsening"
f_side = alt.layer(
    letter("f", -25, -55),
    label("Rate of change in damage score ( Rs )", V(-13), V(153), size=17, align="center", angle=270),
    label(YT, V(5), V(58), size=13, align="center", angle=270),
    label(YT, V(5), V(271), size=13, align="center", angle=270),
).properties(width=10, height=10)

spacer = alt.Chart(ONE).mark_point(size=0, opacity=0).encode(x=V(10), y=V(5)).properties(width=94, height=10)

row1 = alt.hconcat(chart_a, chart_b, chart_c, spacing=15)
row2 = alt.hconcat(spacer, chart_d, chart_e, spacing=0)
row3 = alt.hconcat(f_side, grid_f, spacing=0)

chart = alt.vconcat(alt.vconcat(row1, row2, spacing=13), row3, spacing=37).configure(
    font=FONT
).configure_view(stroke=None).configure_axis(
    domainColor=AXIS_COLOR, tickColor=AXIS_COLOR, domainWidth=1.2, tickWidth=1.2, tickSize=4,
    labelFont=FONT, titleFont=FONT, labelColor="#111", titleColor="#111", grid=False,
    labelFontSize=10, titleFontWeight="normal", labelOverlap=False
).properties(padding={"left": 2, "top": 4, "right": 0, "bottom": 0})

chart.save("out.html", embed_options={"renderer": "svg", "actions": False})
